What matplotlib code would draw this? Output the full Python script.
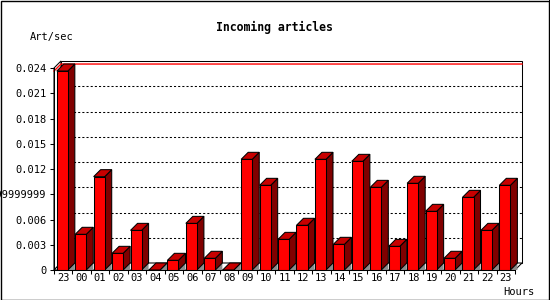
import matplotlib
matplotlib.use("Agg")
import matplotlib.pyplot as plt
from matplotlib.patches import Polygon, Rectangle
from matplotlib.lines import Line2D

# ---- data ----
hours = ["23", "00", "01", "02", "03", "04", "05", "06", "07", "08", "09", "10",
         "11", "12", "13", "14", "15", "16", "17", "18", "19", "20", "21", "22", "23"]
values = [0.02364, 0.00424, 0.01109, 0.00198, 0.00471, 0.0, 0.00115, 0.00554,
          0.00139, 0.0, 0.01315, 0.01006, 0.00364, 0.00531, 0.01315, 0.00305,
          0.01291, 0.00982, 0.00281, 0.01030, 0.00697, 0.00139, 0.00863,
          0.00471, 0.01006]
yticks = [0, 0.003, 0.006, 0.009, 0.012, 0.015, 0.018, 0.021, 0.024]
ytick_labels = ["0", "0.003", "0.006", "0.0089999999999999", "0.012", "0.015",
                "0.018", "0.021", "0.024"]
title = "Incoming articles"
ylabel = "Art/sec"
xlabel = "Hours"

# ---- style ----
W, H = 550, 300
FRONT = "#ff0000"
SIDE = "#800000"
TOP = "#c80000"
FLOOR = "#8c8c8c"
MONO = "DejaVu Sans Mono"
LW = 0.75
FS = 7.5

fig = plt.figure(figsize=(W / 100, H / 100), dpi=100)
fig.patch.set_facecolor("white")

ax_l, ax_b, ax_w, ax_h = 54, 30, 461, 202  # pixels
ax = fig.add_axes([ax_l / W, ax_b / H, ax_w / W, ax_h / H])
n = len(values)
ymax = 0.024
ax.set_xlim(-0.5, n - 0.5)
ax.set_ylim(0, ymax)
ax.set_facecolor("none")

depth_px = 7
dx = depth_px / (ax_w / n)
dy = depth_px / ax_h * ymax

x0, x1 = -0.5, n - 0.5
# back plane
ax.add_patch(Polygon([(x0 + dx, dy), (x1 + dx, dy), (x1 + dx, ymax + dy), (x0 + dx, ymax + dy)],
                     closed=True, facecolor="white", edgecolor="black", lw=LW, clip_on=False, zorder=1))
# left wall
ax.add_patch(Polygon([(x0, 0), (x0 + dx, dy), (x0 + dx, ymax + dy), (x0, ymax)],
                     closed=True, facecolor="white", edgecolor="black", lw=LW, clip_on=False, zorder=1))
# floor
ax.add_patch(Polygon([(x0, 0), (x1, 0), (x1 + dx, dy), (x0 + dx, dy)],
                     closed=True, facecolor="white", edgecolor="black", lw=LW, clip_on=False, zorder=1))

# grid lines on back plane
for t in yticks[1:-1]:
    ax.add_line(Line2D([x0 + dx, x1 + dx], [t + dy, t + dy], color="black", lw=LW,
                       linestyle=(0, (2, 2)), clip_on=False, zorder=2))

# max line
vmax = max(values)
ax.add_line(Line2D([x0, x0 + dx, x1 + dx], [vmax, vmax + dy, vmax + dy], color="red",
                   lw=1.0, clip_on=False, zorder=2))

# bars
bw = 0.6
off = -0.05
for i, v in enumerate(values):
    left = i + off - bw / 2
    right = left + bw
    # floor shadow
    ax.add_patch(Polygon([(left, 0), (right, 0), (right + dx, dy), (left + dx, dy)],
                         closed=True, facecolor=FLOOR, edgecolor="none", clip_on=False, zorder=3))
    ax.add_patch(Polygon([(right, 0), (right + dx, dy), (right + dx, 0)],
                         closed=True, facecolor=FLOOR, edgecolor="none", clip_on=False, zorder=3))
    # side
    ax.add_patch(Polygon([(right, 0), (right + dx, dy), (right + dx, v + dy), (right, v)],
                         closed=True, facecolor=SIDE, edgecolor="black", lw=LW, clip_on=False, zorder=4))
    # top
    ax.add_patch(Polygon([(left, v), (right, v), (right + dx, v + dy), (left + dx, v + dy)],
                         closed=True, facecolor=TOP, edgecolor="black", lw=LW, clip_on=False, zorder=4))
ax.bar([i + off for i in range(n)], values, width=bw, color=FRONT, edgecolor="black",
       linewidth=LW, zorder=5, clip_on=False)

# axes
for s in ("top", "right"):
    ax.spines[s].set_visible(False)
for s in ("left", "bottom"):
    ax.spines[s].set_linewidth(LW)
    ax.spines[s].set_zorder(6)

ax.set_yticks(yticks)
ax.set_yticklabels(ytick_labels, fontfamily=MONO, fontsize=FS)
ax.set_xticks([i - 0.5 for i in range(n + 1)], minor=False)
ax.set_xticklabels([""] * (n + 1))
ax.set_xticks(range(n), minor=True)
ax.set_xticklabels(hours, minor=True, fontfamily=MONO, fontsize=FS)
ax.tick_params(axis="y", direction="out", length=3, width=LW, pad=2.5)
ax.tick_params(axis="x", which="major", direction="out", length=3, width=LW)
ax.tick_params(axis="x", which="minor", length=0, pad=2.5)

fig.text(274 / W, 1 - 27 / H, title, ha="center", va="center", fontfamily=MONO,
         fontweight="bold", fontsize=8.3)
fig.text(30 / W, 1 - 37 / H, ylabel, ha="left", va="center", fontfamily=MONO, fontsize=FS)
fig.text(534 / W, 1 - 292 / H, xlabel, ha="right", va="center", fontfamily=MONO, fontsize=FS)

# image border
fig.patches.append(Rectangle((0.5 / W, 0.5 / H), 548 / W, 298.5 / H, transform=fig.transFigure,
                             fill=False, edgecolor="black", lw=1.0))
fig.patches.append(Rectangle((548.5 / W, 0), 1.5 / W, 1, transform=fig.transFigure,
                             facecolor="black", edgecolor="none"))

fig.savefig("out.png", dpi=100)
